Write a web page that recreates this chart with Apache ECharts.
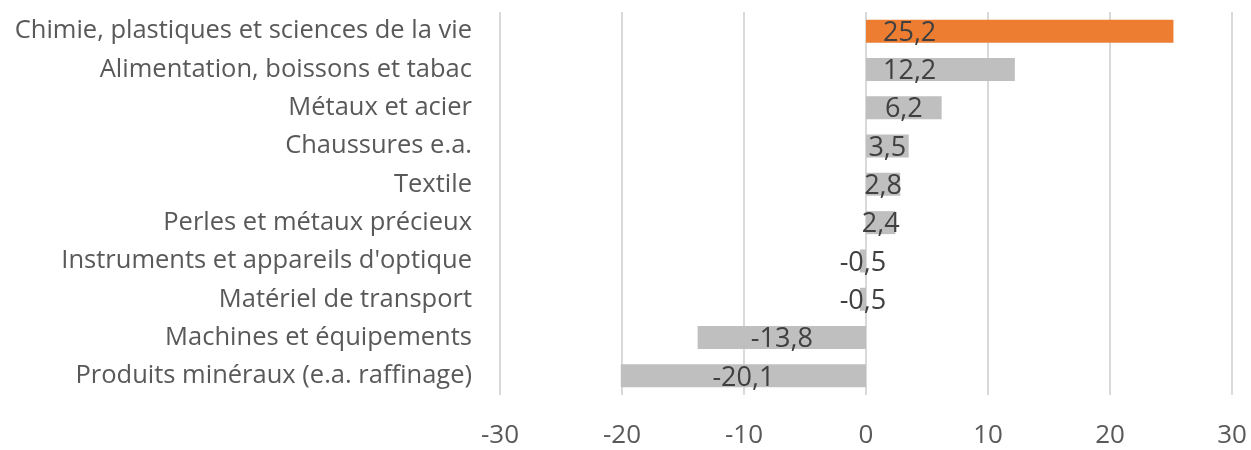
<!DOCTYPE html>
<html>
<head>
    <meta charset="utf-8">
    <script src="https://cdn.jsdelivr.net/npm/echarts@6/dist/echarts.min.js"></script>
    <style>
        html, body { margin: 0; padding: 0; background: #fff; }
    </style>
</head>
<body>
    <div id="main" style="width: 1251px;height:450px;"></div>
    <script>
        // categories from top to bottom
        var categories = [
            'Chimie, plastiques et sciences de la vie',
            'Alimentation, boissons et tabac',
            'Métaux et acier',
            'Chaussures e.a.',
            'Textile',
            'Perles et métaux précieux',
            "Instruments et appareils d'optique",
            'Matériel de transport',
            'Machines et équipements',
            'Produits minéraux (e.a. raffinage)'
        ];
        var values = [25.2, 12.2, 6.2, 3.5, 2.8, 2.4, -0.5, -0.5, -13.8, -20.1];
        var highlight = [true, false, false, false, false, false, false, false, false, false];
        var xTicks = [-30, -20, -10, 0, 10, 20, 30];

        var fontName = 'Open Sans';

        var barData = values.map(function (v, i) {
            var item = {
                value: v,
                itemStyle: { color: highlight[i] ? '#ED7D31' : '#BFBFBF' }
            };
            // the two longest bars carry their label near the base
            if (v > 10) {
                item.label = { position: 'insideLeft', distance: 17 };
            }
            return item;
        });

        var myChart = echarts.init(document.getElementById('main'));
        var option = {
            animation: false,
            grid: {
                left: 500,
                right: 19,
                top: 12,
                bottom: 55,
                containLabel: false
            },
            xAxis: {
                type: 'value',
                min: xTicks[0],
                max: xTicks[xTicks.length - 1],
                interval: 10,
                axisLine: { show: false },
                axisTick: { show: false },
                splitLine: { lineStyle: { color: '#D9D9D9', width: 2 } },
                axisLabel: {
                    margin: 28,
                    fontSize: 26,
                    color: '#595959',
                    fontFamily: fontName
                }
            },
            yAxis: {
                type: 'category',
                inverse: true,
                data: categories,
                axisLine: { show: false },
                axisTick: { show: false },
                axisLabel: {
                    margin: 28,
                    fontSize: 25.5,
                    color: '#595959',
                    fontFamily: fontName,
                    padding: [6, 0, 0, 0]
                }
            },
            series: [{
                type: 'bar',
                barWidth: '60%',
                data: barData,
                label: {
                    show: true,
                    position: 'inside',
                    offset: [0, 2],
                    fontSize: 27,
                    color: '#404040',
                    fontFamily: fontName,
                    formatter: function (p) {
                        return String(p.value).replace('.', ',');
                    }
                }
            }]
        };
        myChart.setOption(option);
    </script>
</body>
</html>
